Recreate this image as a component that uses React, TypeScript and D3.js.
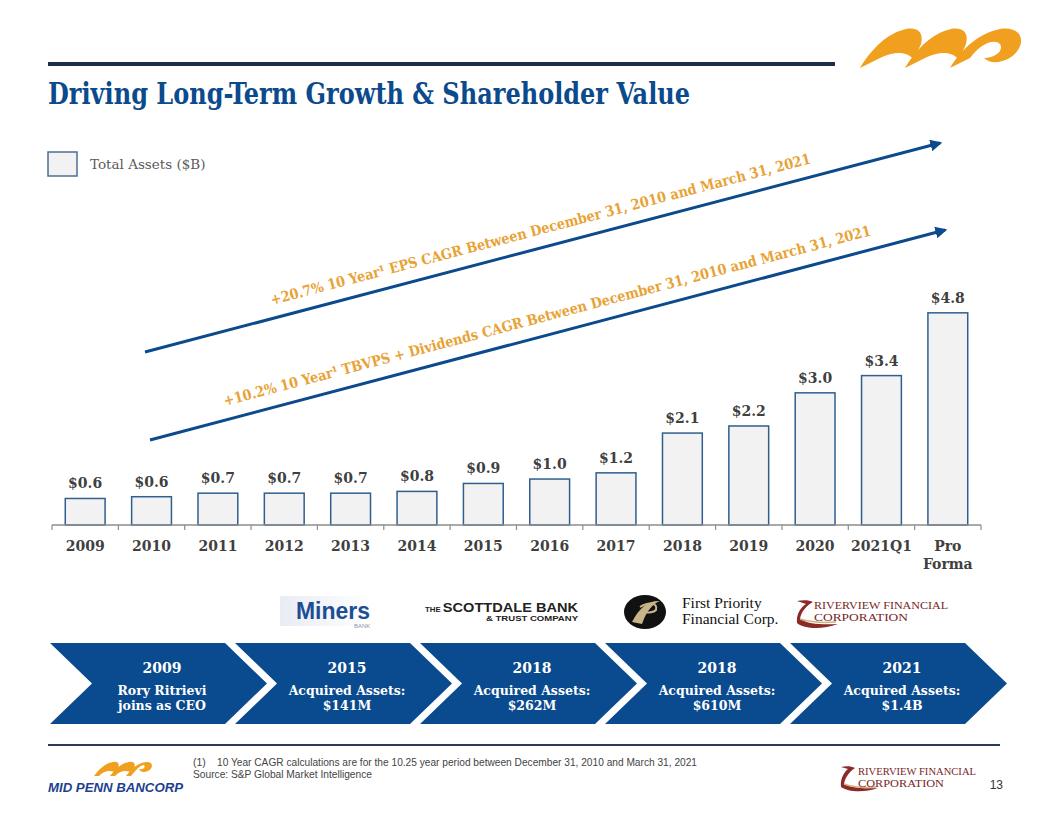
import React from "react";
import * as d3 from "d3";

const categories = ["2009", "2010", "2011", "2012", "2013", "2014", "2015", "2016", "2017", "2018", "2019", "2020", "2021Q1", "Pro Forma"];
const totalAssets = [0.6, 0.64, 0.72, 0.72, 0.72, 0.76, 0.94, 1.04, 1.18, 2.08, 2.24, 2.99, 3.38, 4.8];
const valueLabels = ["$0.6", "$0.6", "$0.7", "$0.7", "$0.7", "$0.8", "$0.9", "$1.0", "$1.2", "$2.1", "$2.2", "$3.0", "$3.4", "$4.8"];

const milestoneYears = ["2009", "2015", "2018", "2018", "2021"];
const milestoneLine1 = ["Rory Ritrievi", "Acquired Assets:", "Acquired Assets:", "Acquired Assets:", "Acquired Assets:"];
const milestoneLine2 = ["joins as CEO", "$141M", "$262M", "$610M", "$1.4B"];

const growthNotes = [
  "+20.7% 10 Year¹ EPS CAGR Between December 31, 2010 and March 31, 2021",
  "+10.2% 10 Year¹ TBVPS + Dividends CAGR Between December 31, 2010 and March 31, 2021",
];

const BLUE = "#0b4a8c";
const ORANGE = "#e8a235";
const SERIF = "'DejaVu Serif', 'Liberation Serif', serif";

export default function App() {
  const W = 1056, H = 816;
  const x = d3.scaleBand<string>().domain(categories).range([52, 981]).paddingInner(0.4).paddingOuter(0.2);
  const y = d3.scaleLinear().domain([0, 5]).range([525, 304]);
  const step = x.step();
  const x0 = 52;
  const base = y(0);

  const arrows = [
    { x1: 145, y1: 352, x2: 940, y2: 143, tx: 272, ty: 305, len: 558 },
    { x1: 150, y1: 440, x2: 945, y2: 230, tx: 225, ty: 406, len: 669 },
  ];

  const chevX = (i: number) => 50 + i * 185;
  const cw = 175, cd = 42, cT = 643, cB = 724, cM = (643 + 724) / 2;
  const chevPath = (i: number) => {
    const xx = chevX(i);
    return `M${xx},${cT}L${xx + cw},${cT}L${xx + cw + cd},${cM}L${xx + cw},${cB}L${xx},${cB}L${xx + cd},${cM}Z`;
  };

  return (
    <svg width={W} height={H} style={{ position: "absolute", left: 0, top: 0, background: "#fff" }} fontFamily={SERIF}>
      <defs>
        <marker id="ah" viewBox="0 0 10 10" refX="8" refY="5" markerWidth="4" markerHeight="4" orient="auto">
          <path d="M0,0L10,5L0,10Z" fill={BLUE} />
        </marker>
        <linearGradient id="minersBg" x1="0" x2="1">
          <stop offset="0" stopColor="#e8ecf4" />
          <stop offset="1" stopColor="#ffffff" />
        </linearGradient>
      </defs>

      {/* top rule and logo */}
      <line x1={48} x2={835} y1={64} y2={64} stroke="#1b2f4d" strokeWidth={4} />
      <g fill="#f0a01e">
        <path d="M860,68 C872,48 888,33 906,29 C918,27 924,33 921,44 L914,60 C908,52 896,50 880,58 Z" />
        <path d="M905,68 C917,48 933,33 951,29 C963,27 969,33 966,44 L959,60 C953,52 941,50 925,58 Z" />
        <path d="M950,68 C962,48 980,33 1000,29 C1018,26 1026,38 1018,50 C1010,62 992,66 984,58 C996,58 1004,50 1000,44 C994,38 980,44 970,58 Z" />
      </g>

      {/* title */}
      <text x={48} y={104} fontSize={30} fontWeight="bold" fill={BLUE} textLength={642} lengthAdjust="spacingAndGlyphs" style={{ fontStretch: "condensed" }}>
        Driving Long-Term Growth &amp; Shareholder Value
      </text>

      {/* legend */}
      <rect x={48} y={152} width={29} height={24} fill="#f2f2f2" stroke="#4a6f94" strokeWidth={1.5} />
      <text x={90} y={169} fontSize={13.5} fill="#595959">Total Assets ($B)</text>

      {/* bars */}
      {categories.map((c, i) => (
        <g key={c}>
          <rect x={x(c)!} y={y(totalAssets[i])} width={x.bandwidth()} height={base - y(totalAssets[i])} fill="#f2f2f2" stroke="#2f5f8f" strokeWidth={1.5} />
          <text x={x(c)! + x.bandwidth() / 2} y={y(totalAssets[i]) - 10} textAnchor="middle" fontSize={14} fontWeight="bold" fill="#404040">
            {valueLabels[i]}
          </text>
        </g>
      ))}

      {/* x axis */}
      <line x1={x0} x2={981} y1={base} y2={base} stroke="#8c8c8c" strokeWidth={1.5} />
      {d3.range(categories.length + 1).map((k) => (
        <line key={k} x1={x0 + k * step} x2={x0 + k * step} y1={base} y2={base + 5} stroke="#8c8c8c" strokeWidth={1.2} />
      ))}
      {categories.map((c) => {
        const cx = x(c)! + x.bandwidth() / 2;
        const parts = c === "Pro Forma" ? ["Pro", "Forma"] : [c];
        return (
          <text key={c} x={cx} y={551} textAnchor="middle" fontSize={14} fontWeight="bold" fill="#404040">
            {parts.map((p, j) => (
              <tspan key={j} x={cx} dy={j === 0 ? 0 : 18}>{p}</tspan>
            ))}
          </text>
        );
      })}

      {/* growth arrows */}
      {arrows.map((a, i) => {
        const ang = (Math.atan2(a.y2 - a.y1, a.x2 - a.x1) * 180) / Math.PI;
        return (
          <g key={i}>
            <line x1={a.x1} y1={a.y1} x2={a.x2} y2={a.y2} stroke={BLUE} strokeWidth={3} markerEnd="url(#ah)" />
            <text transform={`translate(${a.tx},${a.ty}) rotate(${ang})`} fontSize={14.5} fontWeight="bold" fill={ORANGE} textLength={a.len} lengthAdjust="spacingAndGlyphs">
              {growthNotes[i]}
            </text>
          </g>
        );
      })}

      {/* acquisition logos */}
      <rect x={280} y={596} width={92} height={30} fill="url(#minersBg)" />
      <text x={296} y={619} fontFamily="'Liberation Sans', Arial, sans-serif" fontWeight="bold" fontSize={24} fill="#1d4e94" textLength={74} lengthAdjust="spacingAndGlyphs">Miners</text>
      <text x={354} y={628} fontFamily="'Liberation Sans', Arial, sans-serif" fontSize={6} fill="#8a93a6">BANK</text>

      <text x={425} y={612} fontFamily="'Liberation Sans', Arial, sans-serif" fontWeight="bold" fontSize={13} fill="#222" textLength={153} lengthAdjust="spacingAndGlyphs">
        <tspan fontSize={7}>THE </tspan>SCOTTDALE BANK
      </text>
      <text x={486} y={621} fontFamily="'Liberation Sans', Arial, sans-serif" fontWeight="bold" fontSize={7} fill="#222" textLength={92} lengthAdjust="spacingAndGlyphs">&amp; TRUST COMPANY</text>

      <ellipse cx={645} cy={612} rx={21} ry={17} fill="#111" />
      <path d="M632,622 C640,606 650,600 660,601 C652,604 646,612 642,624 Z" fill="#c9b48a" />
      <path d="M640,607 C648,602 658,602 656,610 C652,614 646,612 644,612" fill="none" stroke="#c9b48a" strokeWidth={2} />
      <text x={682} y={608} fontFamily="'Liberation Serif', serif" fontSize={15.5} fill="#111">First Priority</text>
      <text x={682} y={624} fontFamily="'Liberation Serif', serif" fontSize={15.5} fill="#111">Financial Corp.</text>

      <path d="M797,601 C803,600 809,600 813,602 C806,606 801,612 800,619 C808,624 822,625 838,624 C822,630 804,629 797,623 C796,614 801,607 806,604 Z" fill="#8b2a2a" />
      <path d="M800,619 C810,622 824,623 836,622" fill="none" stroke="#d4b27a" strokeWidth={1.5} />
      <text x={814} y={609} fontFamily="'Liberation Serif', serif" fontSize={11} fill="#7a1f1f" textLength={134} lengthAdjust="spacingAndGlyphs">RIVERVIEW FINANCIAL</text>
      <text x={814} y={621} fontFamily="'Liberation Serif', serif" fontSize={11} fill="#7a1f1f" textLength={94} lengthAdjust="spacingAndGlyphs">CORPORATION</text>

      {/* chevrons */}
      {milestoneYears.map((yr, i) => {
        const cx = chevX(i) + 112;
        return (
          <g key={i}>
            <path d={chevPath(i)} fill="#0a4a8e" />
            <text x={cx} y={673} textAnchor="middle" fontSize={14} fontWeight="bold" fill="#fff">{yr}</text>
            <text x={cx} y={695} textAnchor="middle" fontSize={12.5} fontWeight="bold" fill="#fff">{milestoneLine1[i]}</text>
            <text x={cx} y={710} textAnchor="middle" fontSize={12.5} fontWeight="bold" fill="#fff">{milestoneLine2[i]}</text>
          </g>
        );
      })}

      {/* footer */}
      <line x1={48} x2={1000} y1={745} y2={745} stroke="#2b3a55" strokeWidth={2} />
      <text x={193} y={766} fontFamily="'Liberation Sans Narrow', 'Liberation Sans', sans-serif" fontSize={10.5} fill="#444">(1)</text>
      <text x={217} y={766} fontFamily="'Liberation Sans Narrow', 'Liberation Sans', sans-serif" fontSize={10.5} fill="#444" textLength={480} lengthAdjust="spacingAndGlyphs">
        10 Year CAGR calculations are for the 10.25 year period between December 31, 2010 and March 31, 2021
      </text>
      <text x={193} y={778} fontFamily="'Liberation Sans Narrow', 'Liberation Sans', sans-serif" fontSize={10.5} fill="#444" textLength={179} lengthAdjust="spacingAndGlyphs">
        Source: S&amp;P Global Market Intelligence
      </text>

      <g fill="#f0a01e">
        <path d="M94,776 C100,768 106,763 113,762 C118,761 120,764 118,769 L116,773 C112,770 104,770 99,776 Z" />
        <path d="M110,776 C116,768 122,763 129,762 C134,761 136,764 134,769 L132,773 C128,770 120,770 115,776 Z" />
        <path d="M126,776 C132,768 138,763 146,762 C153,761 154,768 148,771 C144,773 140,772 139,769 C143,770 146,767 144,765 C140,765 136,770 131,776 Z" />
      </g>
      <text x={48} y={792} fontFamily="'Liberation Sans', Arial, sans-serif" fontWeight="bold" fontSize={13.5} fill="#1d3f8f" textLength={135} lengthAdjust="spacingAndGlyphs" fontStyle="italic">MID PENN BANCORP</text>

      <path d="M841,767 C846,766 851,766 855,768 C849,772 845,778 844,784 C852,788 864,789 878,788 C864,793 848,792 841,787 C840,779 844,772 848,769 Z" fill="#8b2a2a" />
      <path d="M844,784 C852,787 864,788 876,787" fill="none" stroke="#d4b27a" strokeWidth={1.5} />
      <text x={858} y={775} fontFamily="'Liberation Serif', serif" fontSize={11} fill="#7a1f1f" textLength={118} lengthAdjust="spacingAndGlyphs">RIVERVIEW FINANCIAL</text>
      <text x={858} y={787} fontFamily="'Liberation Serif', serif" fontSize={11} fill="#7a1f1f" textLength={86} lengthAdjust="spacingAndGlyphs">CORPORATION</text>
      <text x={1003} y={789} textAnchor="end" fontFamily="'Liberation Sans Narrow', 'Liberation Sans', sans-serif" fontSize={12} fill="#333">13</text>
    </svg>
  );
}
